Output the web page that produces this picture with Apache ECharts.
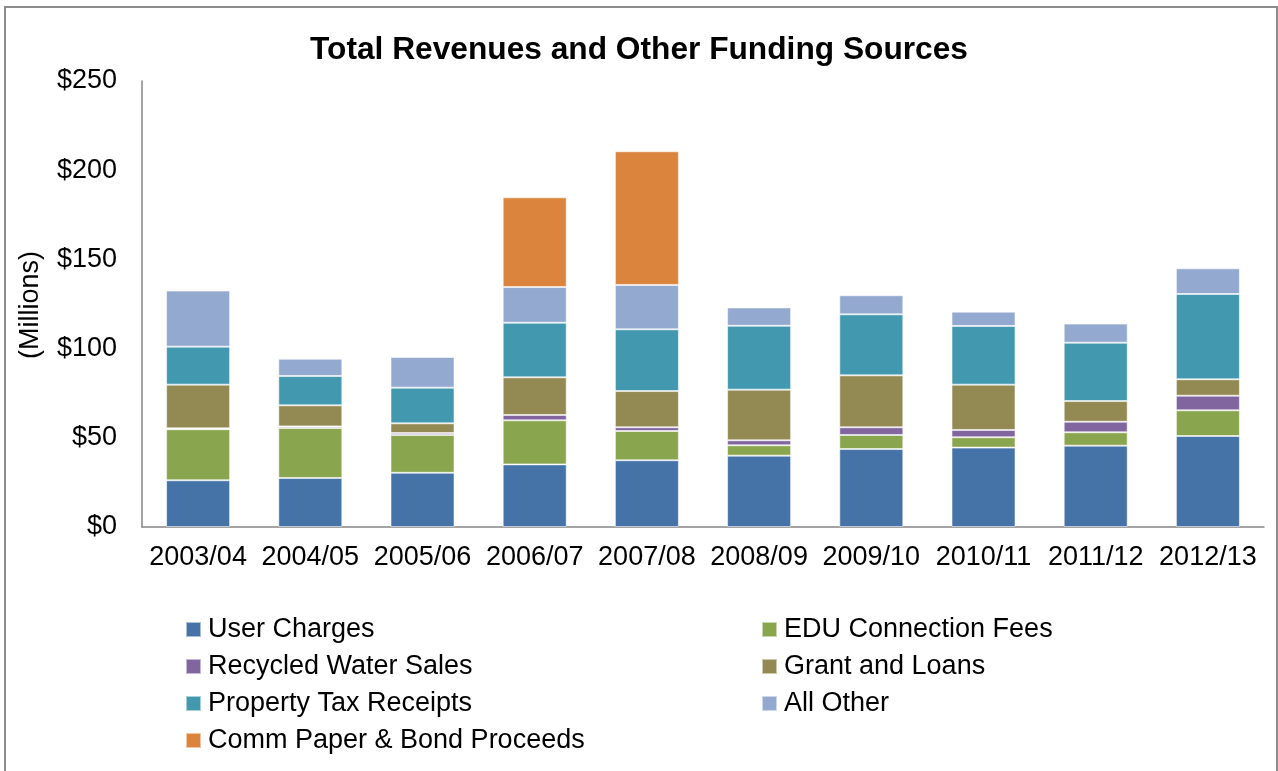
<!DOCTYPE html>
<html>
<head>
<meta charset="utf-8">
<script src="https://cdn.jsdelivr.net/npm/echarts@6/dist/echarts.min.js"></script>
<style>
  html, body { margin: 0; padding: 0; background: #ffffff; }
  #chart { width: 1278px; height: 771px; }
</style>
</head>
<body>
<div id="chart"></div>
<script>
// Fiscal years on the category axis
const categories = ['2003/04', '2004/05', '2005/06', '2006/07', '2007/08', '2008/09', '2009/10', '2010/11', '2011/12', '2012/13'];

// Funding sources, $ millions, bottom of stack first
const userCharges = [26.2, 27.5, 30.4, 35.1, 37.4, 40.0, 43.7, 44.5, 45.6, 51.0];
const eduConnectionFees = [28.6, 28.0, 21.2, 24.7, 16.4, 5.8, 7.9, 5.8, 7.5, 14.4];
const recycledWaterSales = [0.5, 0.9, 1.1, 3.0, 2.1, 2.8, 4.3, 4.1, 5.9, 8.2];
const grantAndLoans = [24.5, 11.8, 5.4, 21.1, 20.3, 28.4, 29.1, 25.4, 11.6, 9.2];
const propertyTaxReceipts = [21.3, 16.4, 20.0, 30.6, 34.6, 35.8, 34.2, 32.9, 32.7, 47.8];
const allOther = [31.4, 9.7, 17.2, 20.0, 24.9, 10.3, 10.7, 8.0, 10.7, 14.4];
const commPaperBondProceeds = [null, null, null, 50.3, 74.9, null, null, null, null, null];

// Value axis ticks
const yTicks = [0, 50, 100, 150, 200, 250];

const seriesDefs = [
  { name: 'User Charges', data: userCharges, color: '#4572A7' },
  { name: 'EDU Connection Fees', data: eduConnectionFees, color: '#89A54E' },
  { name: 'Recycled Water Sales', data: recycledWaterSales, color: '#80659F' },
  { name: 'Grant and Loans', data: grantAndLoans, color: '#938953' },
  { name: 'Property Tax Receipts', data: propertyTaxReceipts, color: '#4198AF' },
  { name: 'All Other', data: allOther, color: '#94A9D0' },
  { name: 'Comm Paper & Bond Proceeds', data: commPaperBondProceeds, color: '#DB843D' }
];

const FONT = 'Liberation Sans, Arial, sans-serif';

const legendText = { fontFamily: FONT, fontSize: 27, color: '#000', lineHeight: 27, padding: [0, 0, 0, 2] };
const legendCommon = {
  orient: 'vertical',
  top: 616,
  padding: 0,
  icon: 'rect',
  itemWidth: 15,
  itemHeight: 15,
  itemGap: 10,
  selectedMode: false,
  textStyle: legendText
};

const chart = echarts.init(document.getElementById('chart'));
chart.setOption({
  animation: false,
  backgroundColor: '#ffffff',
  title: {
    text: 'Total Revenues and Other Funding Sources',
    left: 'center',
    top: 29,
    textStyle: { fontFamily: FONT, fontSize: 31.7, fontWeight: 'bold', color: '#000' }
  },
  graphic: [
    {
      type: 'rect',
      shape: { x: 5, y: 7, width: 1272, height: 800 },
      style: { fill: 'none', stroke: '#8c8c8c', lineWidth: 2 },
      silent: true
    },
    {
      type: 'text',
      x: 31,
      y: 305,
      rotation: Math.PI / 2,
      style: {
        text: '(Millions)',
        fontFamily: FONT,
        fontSize: 27,
        fill: '#000',
        align: 'center',
        verticalAlign: 'middle'
      }
    }
  ],
  legend: [
    Object.assign({ left: 185, data: ['User Charges', 'Recycled Water Sales', 'Property Tax Receipts', 'Comm Paper & Bond Proceeds'] }, legendCommon),
    Object.assign({ left: 761, data: ['EDU Connection Fees', 'Grant and Loans', 'All Other'] }, legendCommon)
  ],
  grid: { left: 142, right: 14, top: 81, bottom: 244, containLabel: false },
  xAxis: {
    type: 'category',
    data: categories,
    axisLine: { lineStyle: { color: '#868686', width: 1.5 } },
    axisTick: { show: false },
    axisLabel: { fontFamily: FONT, fontSize: 27, color: '#000', margin: 17, interval: 0 }
  },
  yAxis: {
    type: 'value',
    min: yTicks[0],
    max: yTicks[yTicks.length - 1],
    interval: yTicks[1] - yTicks[0],
    axisLine: { show: true, lineStyle: { color: '#868686', width: 1.5 } },
    axisTick: { show: false },
    splitLine: { show: false },
    axisLabel: { fontFamily: FONT, fontSize: 27, color: '#000', margin: 25, formatter: v => '$' + v }
  },
  series: seriesDefs.map(s => ({
    name: s.name,
    type: 'bar',
    stack: 'total',
    barWidth: 64,
    data: s.data,
    itemStyle: { color: s.color, borderColor: 'rgba(255,255,255,0.55)', borderWidth: 1 }
  }))
});
</script>
</body>
</html>
